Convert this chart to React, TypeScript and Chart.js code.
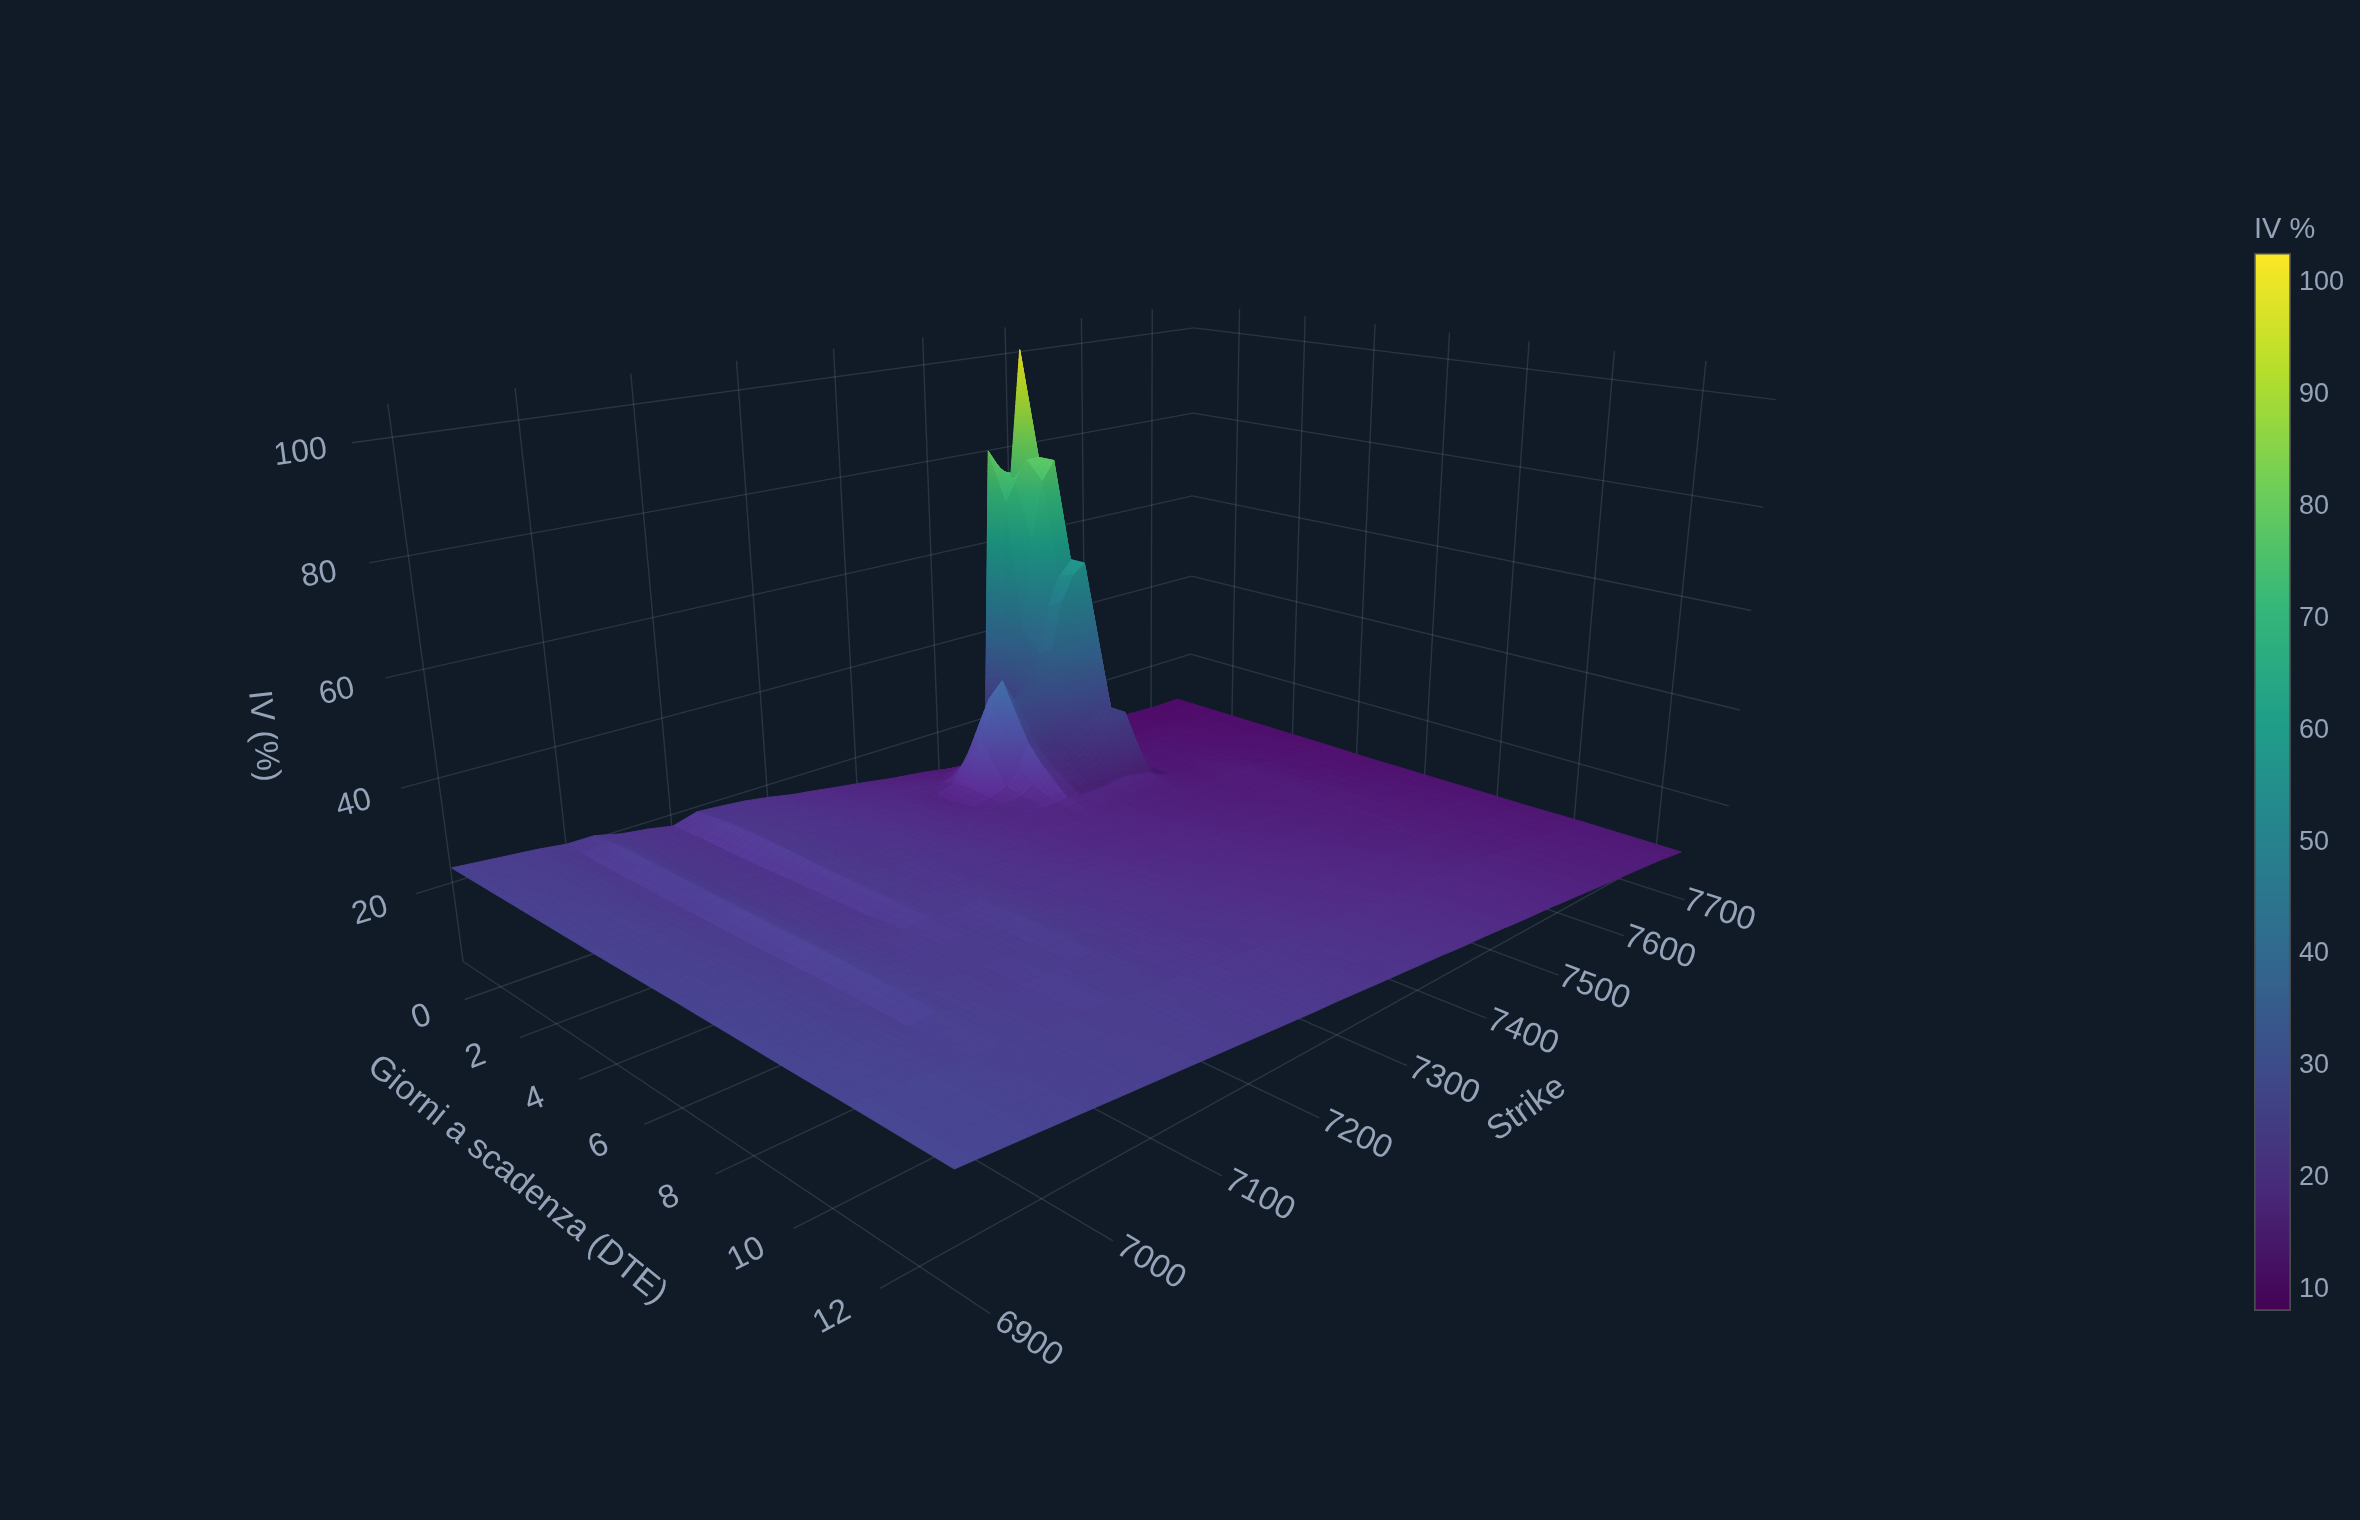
import React, { useEffect, useRef } from "react";
import { Chart, registerables } from "chart.js";
Chart.register(...registerables);

const strikes = [6900,6925,6950,6975,7000,7025,7050,7075,7100,7125,7150,7175,7200,7225,7250,7275,7300,7340,7360,7380,7395,7408,7425,7445,7458,7473,7486,7500,7516,7530,7545,7565,7600,7650,7700,7740];
const dtes = [-1.4,-0.85,-0.35,0.15,0.6,1.4,1.86,2.6,3.5,5,6,7,8,9,10.5,12.85];
const iv0 = [23,22.5,22,21.5,20.8,20.8,19.5,18.8,17.8,19.2,18.8,18.3,17.5,16.5,15.8,15,14.3,13,12.5,12,11.5,11,10.5,10.5,10.5,80,76,72,100.5,20,12,11,10.5,10,9.5,9.5];
const iv1 = [23,22.5,22,21.5,20.4,21.1,19.5,18.9,17.9,19.6,19,18.5,17.7,16.7,16.1,15.2,14.6,13.5,13,12.5,12.5,13,13,14,16,70,74,78,78,30,12.5,11,10.5,10,9.5,9.5];
const iv2 = [23,22.5,22,21.5,20.2,21.5,19.5,19,18,20,19.3,18.8,18,17,16.5,15.5,15,14,13.5,13,14,17,17,20,24,42,62,74,78,38,13,11,10.5,10,9.5,9.5];
const iv3 = [23,22.5,22,21.5,20.2,21.5,19.5,19,18,20.1,19.4,18.9,18.1,17.1,16.5,15.6,15.1,13.5,14.5,20,26,31,28,30,32,38,48,54,57,25,12.5,11,10.5,10.5,10,9.5];
const iv4 = [23,22.5,22,21.5,20.2,21.5,19.5,19,18,20.2,19.5,19,18.2,17.2,16.5,15.8,15.2,13,15,24,31,36,30,32,34,40,50,55,57,22,12.5,11.5,11,10.5,10,9.5];
const iv5 = [23,22.5,22.1,21.2,20.2,21.5,19.5,19,18.1,20.2,19.5,18.7,18.3,17.4,16.7,15.9,15.2,14,14.5,16,19,24,21,21,22,24,25,26,26,15,12,11.5,11.5,10.5,10,9.5];
const iv6 = [23,22.5,22.2,21,20.2,21.5,19.5,19,18.2,20.2,19.5,18.6,18.3,17.5,16.8,16,15.3,14.5,14.5,15,16.5,20,18,18,19,21,23,25,26,14,12,11.5,11.5,10.5,10,9.5];
const iv7 = [23,22.5,22.3,21,20.3,21.5,19.5,19,18.4,20,19.5,18.5,18.4,17.5,16.9,16,15.5,14.5,14.5,14.5,14.5,15,14.5,14.5,14.5,15,15,14.5,14,12.5,12,11.5,11.8,10.6,10,9.5];
const iv8 = [23,22.5,22.3,21.2,20.3,21.6,19.7,19,18.6,20,19.5,18.7,18.5,17.6,17,16.2,15.6,14.5,14.3,14,13.8,13.8,13.6,13.4,13.2,13,13,12.8,12.6,12.4,12.2,12,12.5,10.8,10,9.5];
const iv9 = [23.1,22.6,22.4,21.3,20.4,21.6,20,19.2,18.8,20,19.5,18.7,18.6,17.7,17,16.3,15.7,14.7,14.5,14.2,14,14,13.8,13.6,13.4,13.2,13.1,13,12.8,12.6,12.4,12.2,12.6,11,10,9.4];
const iv10 = [23.2,22.7,22.4,21.4,20.6,21.8,20.3,19.5,19.5,19.9,19.6,19.8,18.8,17.9,17.2,16.5,15.9,14.9,14.7,14.4,14.2,14.2,14,13.8,13.6,13.4,13.3,13.1,12.9,12.8,12.6,12.4,12.4,11.1,10.1,9.5];
const iv11 = [23.2,22.7,22.4,21.5,20.8,21.7,20.6,19.8,20,19.9,19.8,20.1,18.8,18,17.3,16.6,16.1,15.2,15,14.7,14.5,14.4,14.2,14,13.8,13.6,13.5,13.3,13.1,12.9,12.7,12.5,12.2,11.2,10.3,9.5];
const iv12 = [23.2,22.7,22.4,21.5,20.8,21.6,20.6,20,19.8,19.8,19.6,20,18.6,18,17.3,16.7,16.2,15.3,15.1,14.8,14.6,14.5,14.3,14.1,13.9,13.7,13.6,13.4,13.2,13,12.8,12.6,12.1,11.2,10.4,9.6];
const iv13 = [23.2,22.7,22.4,21.7,20.8,21.4,20.6,20,19.7,20.1,19.5,19.6,18.4,17.9,17.3,16.7,16.2,15.5,15.2,14.9,14.7,14.6,14.4,14.2,14,13.8,13.7,13.5,13.3,13.1,12.9,12.7,12,11.2,10.4,9.6];
const iv14 = [23.3,22.8,22.5,22,21.4,21.2,20.8,20.3,19.9,20,19.4,19.3,18.5,18,17.5,17.1,16.6,15.9,15.6,15.4,15.2,15,14.8,14.6,14.4,14.2,14,13.9,13.7,13.5,13.3,13,12.3,11.4,10.5,9.8];
const iv15 = [23.3,22.9,22.5,22.1,21.7,21.3,20.9,20.5,20.1,19.7,19.3,18.9,18.5,18.1,17.8,17.4,17,16.4,16.1,15.8,15.5,15.3,15.1,14.8,14.6,14.3,14.1,13.9,13.7,13.5,13.2,12.9,12.3,11.5,10.7,9.8];
const ivRows = [iv0,iv1,iv2,iv3,iv4,iv5,iv6,iv7,iv8,iv9,iv10,iv11,iv12,iv13,iv14,iv15];

const strikeTicks = [6900,7000,7100,7200,7300,7400,7500,7600,7700];
const dteTicks = [0,2,4,6,8,10,12];
const ivTicks = [20,40,60,80,100];
const colorbarTicks = [10,20,30,40,50,60,70,80,90,100];

const BG = "#111b27";
const TEXT = "#94a3b8";
const GRID = "rgba(148,163,184,0.19)";
const FONT = '"Liberation Sans", Arial, sans-serif';
const CMIN = 7.9, CMAX = 102.5;
const ZF = 4.3, ZT = 105.5, DW = -1.45, SW = 7763, S_TICK = 6870, D_TICK = 13.5;

const viridis = ["#440154","#482878","#3e4989","#31688e","#26828e","#1f9e89","#35b779","#6ece58","#b5de2b","#fde725"];
const hex = (h: string) => [parseInt(h.slice(1,3),16),parseInt(h.slice(3,5),16),parseInt(h.slice(5,7),16)];
const vir = viridis.map(hex);
function colormap(v: number) {
  const t = Math.max(0, Math.min(0.9999, (v - CMIN) / (CMAX - CMIN))) * 9;
  const i = Math.floor(t), f = t - i;
  return [0,1,2].map((k) => vir[i][k] + (vir[i+1][k]-vir[i][k]) * f);
}

// Scene camera: a 3x4 perspective matrix on normalised axis coordinates.
const CAM = [0.554382,0.116140,-0.056974,1.092838, 0.012870,-0.009893,-0.298158,0.699377, 0.180350,-0.134150,-0.050227];
const nX = (s: number) => (s-7300)/400, nY = (d: number) => (d-6)/7, nZ = (z: number) => (z-50)/50;
function project(s: number, d: number, z: number) {
  const X=nX(s),Y=nY(d),Z=nZ(z);
  const w=CAM[8]*X+CAM[9]*Y+CAM[10]*Z+1;
  return { x:1000*(CAM[0]*X+CAM[1]*Y+CAM[2]*Z+CAM[3])/w, y:1000*(CAM[4]*X+CAM[5]*Y+CAM[6]*Z+CAM[7])/w, w };
}
const seg = (a: number[], b: number[]) => [project(a[0],a[1],a[2]),project(b[0],b[1],b[2])].map(p=>({x:p.x,y:p.y}));

function gridDatasets() {
  const lines: {x:number;y:number}[][] = [];
  for (const s of strikeTicks) { lines.push(seg([s,DW,ZF],[s,DW,ZT])); lines.push(seg([s,DW,ZF],[s,D_TICK,ZF])); }
  for (const d of dteTicks) { lines.push(seg([SW,d,ZF],[SW,d,ZT])); lines.push(seg([S_TICK,d,ZF],[SW,d,ZF])); }
  for (const z of ivTicks) { lines.push(seg([S_TICK,DW,z],[SW,DW,z])); lines.push(seg([SW,DW,z],[SW,D_TICK,z])); }
  return lines.map((data)=>({ data, showLine:true, borderColor:GRID, borderWidth:1.4, pointRadius:0, parsing:false as const }));
}

const surfacePlugin = {
  id:"surface3d",
  afterDatasetsDraw(chart: any) {
    const { ctx, scales:{x:sx,y:sy} } = chart;
    const px=(s:number,d:number,z:number)=>{const p=project(s,d,z);return [sx.getPixelForValue(p.x),sy.getPixelForValue(p.y)];};
    const quads:any[]=[];
    for(let r=0;r<dtes.length-1;r++) for(let c=0;c<strikes.length-1;c++){
      const s0=strikes[c],s1=strikes[c+1],d0=dtes[r],d1=dtes[r+1];
      const z00=ivRows[r][c],z01=ivRows[r][c+1],z10=ivRows[r+1][c],z11=ivRows[r+1][c+1];
      quads.push({s0,s1,d0,d1,z00,z01,z10,z11,w:project((s0+s1)/2,(d0+d1)/2,(z00+z01+z10+z11)/4).w});
    }
    quads.sort((a,b)=>b.w-a.w);
    ctx.save();
    ctx.lineWidth=1; ctx.lineJoin="round";
    for(const q of quads){
      const zMean=(q.z00+q.z01+q.z10+q.z11)/4;
      const range=Math.max(q.z00,q.z01,q.z10,q.z11)-Math.min(q.z00,q.z01,q.z10,q.z11);
      const n=Math.max(3,Math.min(48,Math.ceil(range/1.0)));
      const ax=(nX(q.s1)-nX(q.s0)),ay=(nY(q.d1)-nY(q.d0));
      const dzs=((q.z01+q.z11)-(q.z00+q.z10))/2/50*0.7,dzd=((q.z10+q.z11)-(q.z00+q.z01))/2/50*0.7;
      const nx=-dzs*ay,ny=-dzd*ax,nz=ax*ay; const nl=Math.hypot(nx,ny,nz);
      const steep=1-nz/nl, facing=Math.max(0,-nx/nl);
      let f=1.03-0.17*steep+(q.s1<=7425?0.3:0.04)*facing;
      if(q.s0>=7425&&q.s1<=7545&&q.d1<=3&&zMean<40) f=Math.min(f,0.9);
      const Z=(i:number,j:number)=>{const u=i/n,v=j/n;return (q.z00*(1-u)+q.z01*u)*(1-v)+(q.z10*(1-u)+q.z11*u)*v;};
      const P=(i:number,j:number)=>px(q.s0+(q.s1-q.s0)*i/n,q.d0+(q.d1-q.d0)*j/n,Z(i,j));
      const sMid=(q.s0+q.s1)/2;
      const lift=(sMid>7300?Math.max(0.6,3-2.4*(sMid-7300)/300):3)+0.22*((q.d0+q.d1)/2+1.4);
      for(let j=0;j<n;j++) for(let i=0;i<n;i++){
        const zc=(Z(i,j)+Z(i+1,j)+Z(i,j+1)+Z(i+1,j+1))/4;
        const m=colormap(zc+lift*Math.max(0,1-(zc-10)/40));
        const add=Math.max(0,1-(zc-10)/50);
        const col=`rgb(${Math.min(255,m[0]*f+9*add)|0},${Math.min(255,m[1]*f+3*add)|0},${Math.min(255,m[2]*f+13*add)|0})`;
        const a=P(i,j),b=P(i+1,j),c=P(i+1,j+1),e=P(i,j+1);
        ctx.beginPath();ctx.moveTo(a[0],a[1]);ctx.lineTo(b[0],b[1]);ctx.lineTo(c[0],c[1]);ctx.lineTo(e[0],e[1]);ctx.closePath();
        ctx.fillStyle=col;ctx.strokeStyle=col;ctx.fill();ctx.stroke();
      }
    }
    ctx.restore();
    const text=(t:string,x:number,y:number,ang:number,size:number)=>{ctx.save();ctx.translate(x,y);ctx.rotate(ang);ctx.font=`${size}px ${FONT}`;ctx.fillStyle=TEXT;ctx.textAlign="center";ctx.textBaseline="middle";ctx.fillText(t,0,0);ctx.restore();};
    const angle=(a:number[],b:number[])=>{const p=px(a[0],a[1],a[2]),q=px(b[0],b[1],b[2]);return Math.atan2(q[1]-p[1],q[0]-p[0]);};
    for(const s of strikeTicks){const p=px(s,14.25,ZF);text(String(s),p[0],p[1],angle([s,12,ZF],[s,D_TICK,ZF]),33);}
    for(const d of dteTicks){const p=px(6836,d,ZF);text(String(d),p[0]-1,p[1]+3,angle([6832,d,ZF],[6900,d,ZF]),33);}
    for(const z of ivTicks){const p=px(6833,DW,z);text(String(z),p[0],p[1]+3,angle([6833,DW,z],[6900,DW,z]),32);}
    text("Giorni a scadenza (DTE)",517,1180,0.68,34);
    text("Strike",1527,1109,-0.62,34);
    text("IV (%)",263,736,1.46,33);
  },
};

const colorbarGradient = (c:any)=>{
  const {ctx,chartArea}=c.chart; if(!chartArea) return "#000";
  const g=ctx.createLinearGradient(0,chartArea.bottom,0,chartArea.top);
  viridis.forEach((h,i)=>g.addColorStop(i/9,h)); return g;
};

export default function App(){
  const mainRef=useRef<HTMLCanvasElement>(null); const barRef=useRef<HTMLCanvasElement>(null);
  useEffect(()=>{
    document.body.style.margin="0"; document.body.style.background=BG;
    const surfaceVerts=dtes.flatMap((d,r)=>strikes.map((s,c)=>{const p=project(s,d,ivRows[r][c]);return {x:p.x,y:p.y};}));
    const main=new Chart(mainRef.current!,{
      type:"scatter",
      data:{datasets:[...gridDatasets(),{label:"IV surface",data:surfaceVerts,pointRadius:0,showLine:false}] as any},
      options:{responsive:false,animation:false,devicePixelRatio:1,layout:{padding:0},
        scales:{x:{type:"linear",min:0,max:2360,display:false},y:{type:"linear",min:0,max:1520,reverse:true,display:false}},
        plugins:{legend:{display:false},tooltip:{enabled:false}}},
      plugins:[surfacePlugin],
    } as any);
    const bar=new Chart(barRef.current!,{
      type:"bar",
      data:{labels:["IV %"],datasets:[{data:[[CMIN,CMAX]],backgroundColor:colorbarGradient,borderColor:"rgba(110,110,110,0.6)",borderWidth:2,borderSkipped:false,barPercentage:1,categoryPercentage:1}] as any},
      options:{responsive:false,animation:false,devicePixelRatio:1,layout:{padding:{bottom:30,left:1}},
        scales:{x:{display:false},
          y:{position:"right",min:CMIN,max:CMAX,grid:{display:false},border:{display:false},afterFit(s:any){s.width=69;s.paddingTop=0;s.paddingBottom=0;},
            afterBuildTicks(s:any){s.ticks=colorbarTicks.map((value)=>({value}));},
            ticks:{color:TEXT,font:{size:27,family:FONT},padding:0,labelOffset:2}}},
        plugins:{legend:{display:false},tooltip:{enabled:false},
          title:{display:true,text:"IV %",align:"start",color:TEXT,font:{size:29,family:FONT,weight:"normal"},padding:{top:13,bottom:5}}}},
    } as any);
    return ()=>{main.destroy();bar.destroy();};
  },[]);
  return (
    <div style={{position:"absolute",left:0,top:0,width:2360,height:1520,background:BG,overflow:"hidden"}}>
      <canvas ref={mainRef} width={2360} height={1520} style={{position:"absolute",left:0,top:0}}/>
      <canvas ref={barRef} width={107} height={1141} style={{position:"absolute",left:2253,top:200}}/>
    </div>
  );
}
